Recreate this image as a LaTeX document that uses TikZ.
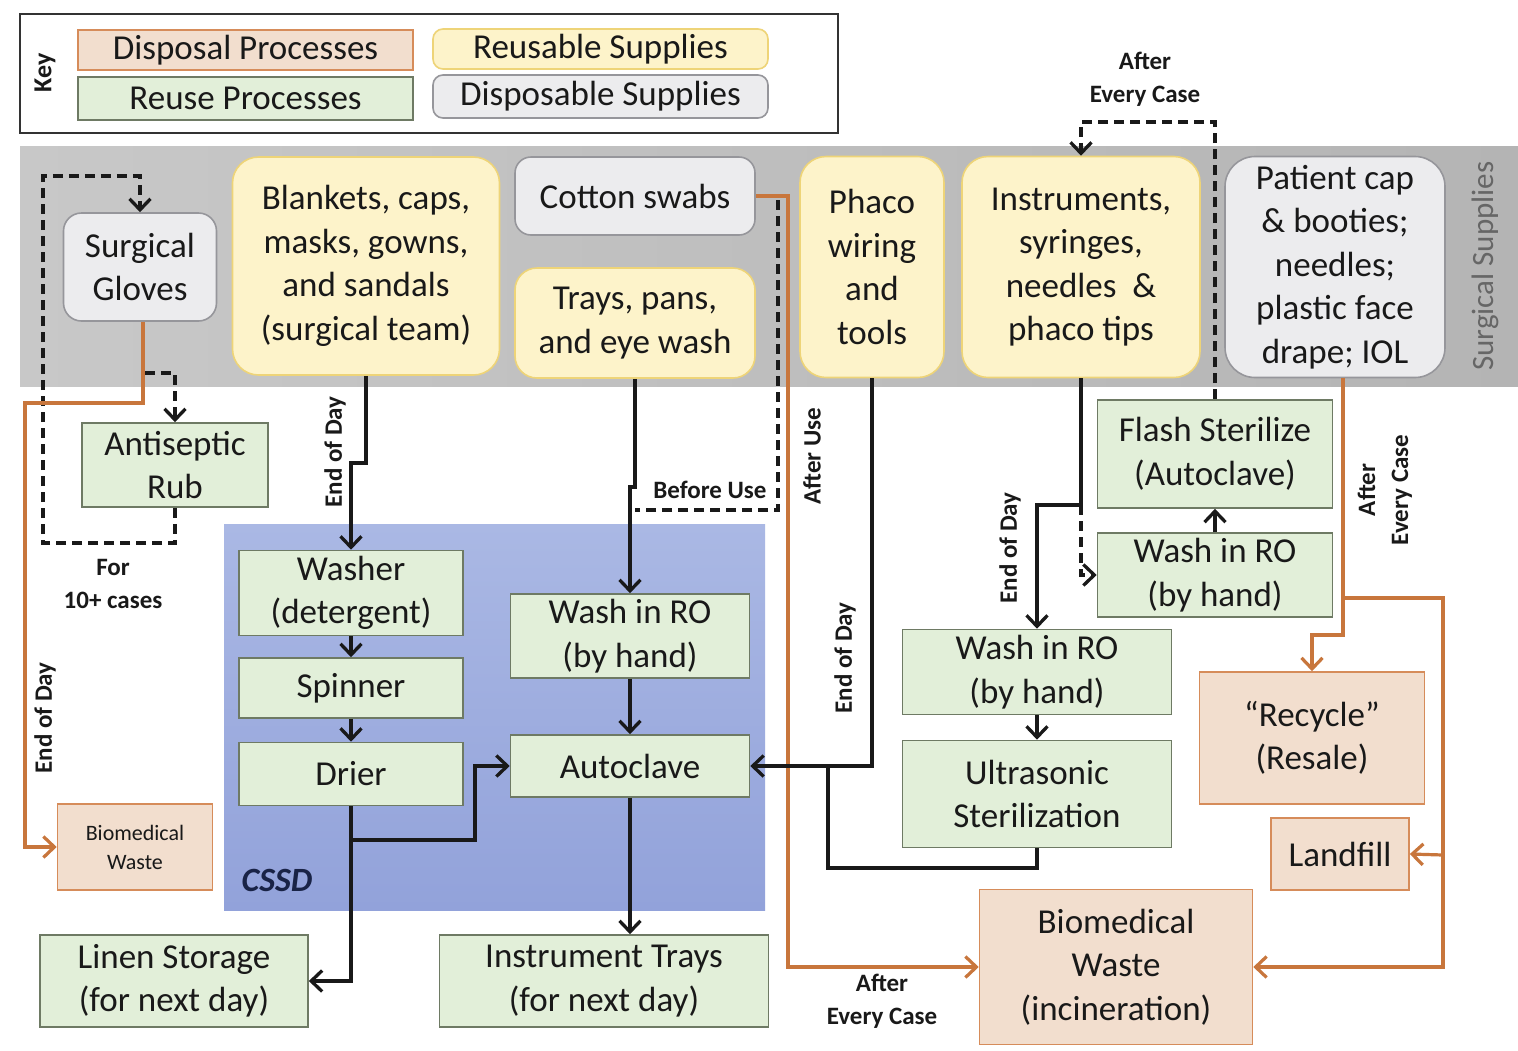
\documentclass[tikz,border=0pt]{standalone}
\usepackage{fontspec}
\setmainfont{Carlito}
\usetikzlibrary{arrows.meta,calc}
\definecolor{rgreen}{RGB}{226,239,217}
\definecolor{rgreenb}{RGB}{110,122,100}
\definecolor{dpeach}{RGB}{242,222,206}
\definecolor{dpeachb}{RGB}{214,140,90}
\definecolor{ryel}{RGB}{253,243,202}
\definecolor{ryelb}{RGB}{238,212,120}
\definecolor{dgry}{RGB}{236,236,238}
\definecolor{dgryb}{RGB}{150,150,155}
\definecolor{bandl}{RGB}{200,200,200}
\definecolor{bandr}{RGB}{180,180,180}
\definecolor{cssdtop}{RGB}{170,184,228}
\definecolor{cssdbot}{RGB}{146,162,218}
\definecolor{oline}{RGB}{200,118,60}
\definecolor{txt}{RGB}{25,25,25}
\definecolor{navy}{RGB}{25,35,70}
\begin{document}
\begin{tikzpicture}[x=1pt,y=-1pt,
  bx/.style={draw, line width=1.6pt, align=center, inner sep=0pt, text=txt, font=\fontsize{35}{43.5}\selectfont},
  reuseP/.style={bx, fill=rgreen, draw=rgreenb},
  dispP/.style={bx, fill=dpeach, draw=dpeachb},
  reusS/.style={bx, fill=ryel, draw=ryelb, rounded corners=26pt},
  dispS/.style={bx, fill=dgry, draw=dgryb, rounded corners=20pt},
  arr/.style={-{Straight Barb[length=11pt,width=21pt]}},
  blk/.style={line width=3.3pt, black!90},
  dsh/.style={line width=3.3pt, black!90, dash pattern=on 10pt off 6pt},
  org/.style={line width=3.2pt, oline},
  lab/.style={font=\bfseries\fontsize{25}{33}\selectfont, text=txt, align=center, inner sep=0pt},
]
\useasboundingbox (0,0) rectangle (1518,1050);
\fill[white] (0,0) rectangle (1518,1050);

% key
\node[draw=black!80, line width=2pt, minimum width=818, minimum height=119, inner sep=0pt] (key) at (429,73.5) {};
\node[lab, rotate=90, font=\bfseries\fontsize{26}{30}\selectfont] (keylab) at (45,73) {Key};
\node[dispP, minimum width=335, minimum height=40] (kDP) at (245.5,50) {Disposal Processes};
\node[reuseP, minimum width=335, minimum height=43] (kRP) at (245.5,98.5) {Reuse Processes};
\node[reusS, rounded corners=10pt, minimum width=335, minimum height=40] (kRS) at (600.5,49) {Reusable Supplies};
\node[dispS, rounded corners=10pt, minimum width=335, minimum height=43] (kDS) at (600.5,96.5) {Disposable Supplies};

% backgrounds
\shade[left color=bandl, right color=bandr] (20,146) rectangle (1518,386);
\node[rotate=90, font=\fontsize{31}{36}\selectfont, text=black!60] (sslab) at (1485,266) {Surgical Supplies};
\shade[top color=cssdtop, bottom color=cssdbot] (224,524) rectangle (765,910);
\node[font=\bfseries\itshape\fontsize{34}{40}\selectfont, text=navy] (cssdlab) at (277,880) {CSSD};

% supplies
\node[dispS, minimum width=153, minimum height=108, rounded corners=18pt] (gloves) at (140,267) {Surgical\\Gloves};
\node[reusS, minimum width=267, minimum height=218] (blank) at (366,266) {Blankets, caps,\\masks, gowns,\\and sandals\\(surgical team)};
\node[dispS, minimum width=240, minimum height=78, rounded corners=16pt] (cotton) at (635,196) {Cotton swabs};
\node[reusS, minimum width=240, minimum height=110, rounded corners=22pt] (trays) at (635,323) {Trays, pans,\\and eye wash};
\node[reusS, minimum width=144, minimum height=221] (phaco) at (872,267) {Phaco\\wiring\\and\\tools};
\node[reusS, minimum width=238, minimum height=221] (instr) at (1081,267) {Instruments,\\syringes,\\needles~~\&\\phaco tips};
\node[dispS, minimum width=220, minimum height=221, rounded corners=30pt] (patient) at (1335,267) {Patient cap\\\& booties;\\needles;\\plastic face\\drape; IOL};

% processes
\node[reuseP, minimum width=186, minimum height=84] (rub) at (175,465) {Antiseptic\\Rub};
\node[reuseP, minimum width=235, minimum height=108] (flash) at (1215,454) {Flash Sterilize\\(Autoclave)};
\node[reuseP, minimum width=235, minimum height=84] (washR) at (1215,575) {Wash in RO\\(by hand)};
\node[reuseP, minimum width=269, minimum height=85] (washM) at (1037,672) {Wash in RO\\(by hand)};
\node[reuseP, minimum width=269, minimum height=107] (ultra) at (1037,794) {Ultrasonic\\Sterilization};
\node[dispP, minimum width=225, minimum height=132] (recycle) at (1312,738) {“Recycle”\\(Resale)};
\node[dispP, minimum width=138, minimum height=72] (landfill) at (1340,854) {Landfill};
\node[dispP, minimum width=273, minimum height=155] (bioL) at (1116,967) {Biomedical\\Waste\\(incineration)};
\node[dispP, minimum width=155, minimum height=86, font=\fontsize{22}{29}\selectfont] (bioS) at (135,847) {Biomedical\\Waste};
\node[reuseP, minimum width=224, minimum height=85] (washer) at (351,593) {Washer\\(detergent)};
\node[reuseP, minimum width=224, minimum height=60] (spinner) at (351,688) {Spinner};
\node[reuseP, minimum width=224, minimum height=63] (drier) at (351,774) {Drier};
\node[reuseP, minimum width=239, minimum height=84] (washC) at (630,636) {Wash in RO\\(by hand)};
\node[reuseP, minimum width=239, minimum height=62] (auto) at (630,766) {Autoclave};
\node[reuseP, minimum width=268, minimum height=92] (linen) at (174,981) {Linen Storage\\(for next day)};
\node[reuseP, minimum width=329, minimum height=92] (itrays) at (604,981) {Instrument Trays\\(for next day)};

% helper coordinates
\coordinate (gb) at (145,373);
\coordinate (dj) at (351,840);
\coordinate (cs) at (778,200);
\coordinate (tj) at (635,510);
\coordinate (ij) at (1081,505);
\coordinate (uj) at (828,766);
\coordinate (pj) at (1343,598);
\coordinate (rj) at (1443,855);

% gloves
\draw[dsh, arr] (rub.south) -- (175,543) -| (43,176) -| (gloves.north);
\draw[dsh, arr] (gb) -| (rub.north);
\draw[org, arr] ([xshift=3pt]gloves.south) |- (25,403) |- (bioS.west);

% linens
\draw[blk, arr] (blank.south) -- (366,463) -| (washer.north);
\draw[blk, arr] (washer.south) -- (spinner.north);
\draw[blk, arr] (spinner.south) -- (drier.north);
\draw[blk, arr] (drier.south) |- (linen.east);
\draw[blk, arr] (dj) -| (475,766) -- (auto.west);

% trays
\draw[blk, arr] (trays.south) -- (635,487) -| (washC.north);
\draw[blk, arr] (washC.south) -- (auto.north);
\draw[blk, arr] (auto.south) -- (auto.south |- itrays.north);
\draw[dsh] (cs) |- (tj);

% cotton swabs
\draw[org, arr] (cotton.east) -| (788,967) -- (bioL.west);

% phaco
\draw[blk, arr] (phaco.south) |- (auto.east);
\draw[blk] (ultra.south) -- (1037,868) -| (uj);

% instruments
\draw[blk, arr] (instr.south) -- (ij) -| (washM.north);
\draw[dsh, arr] (ij) |- (washR.west);
\draw[blk, arr] (washM.south) -- (ultra.north);
\draw[blk, arr] (washR.north) -- (flash.south);
\draw[dsh, arr] (flash.north) -- (1215,122) -| (instr.north);

% patient items
\draw[org, arr] ([xshift=8pt]patient.south) -- (1343,635) -| (recycle.north);
\draw[org, arr] (pj) -| (1443,967) -- (bioL.east);
\draw[org, arr] (rj) -- (landfill.east);

% labels
\node[lab, rotate=90] (l1) at (335,452) {End of Day};
\node[lab, rotate=90] (l2) at (45,718) {End of Day};
\node[lab] (l3) at (113,584) {For\\10+ cases};
\node[lab] (l4) at (710,490) {Before Use};
\node[lab, rotate=90] (l5) at (812,456) {After Use};
\node[lab, rotate=90] (l6) at (845,658) {End of Day};
\node[lab, rotate=90] (l7) at (1010,548) {End of Day};
\node[lab] (l8) at (1145,79) {After\\Every Case};
\node[lab, rotate=90] (l9) at (1385,490) {After\\Every Case};
\node[lab] (l10) at (882,1001) {After\\Every Case};
\end{tikzpicture}
\end{document}
